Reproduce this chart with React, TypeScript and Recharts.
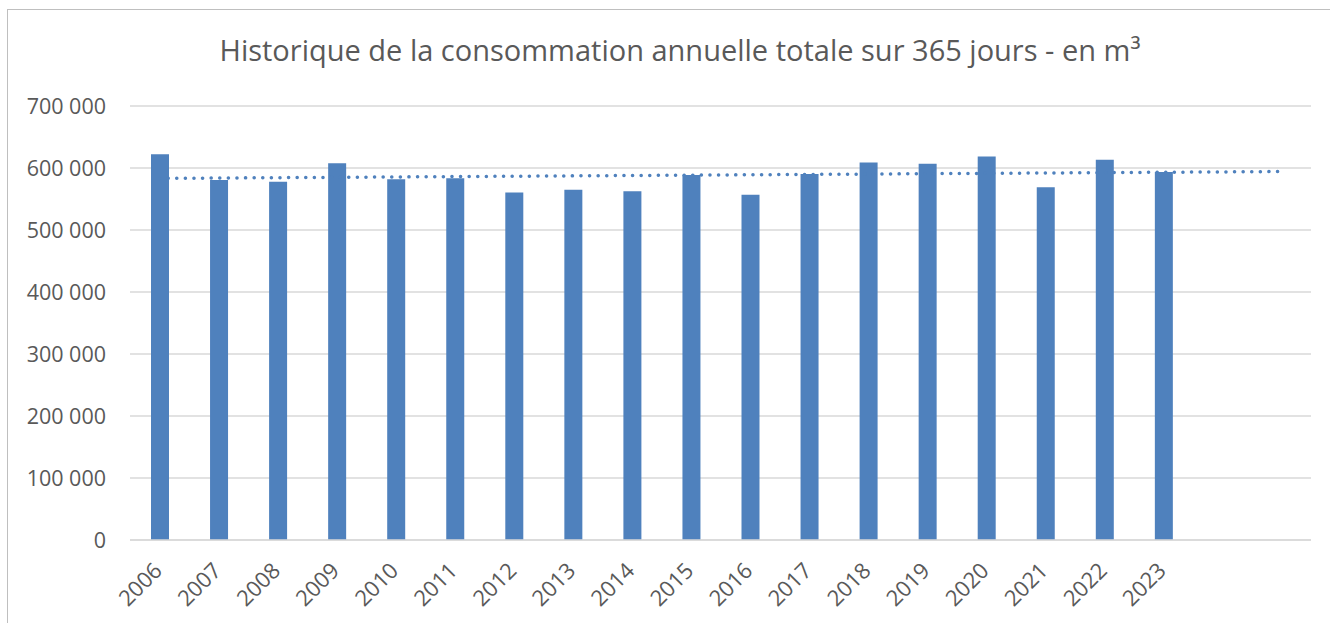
import { ComposedChart, Bar, Line, XAxis, YAxis, CartesianGrid } from "recharts";

// Years on the category axis (last two slots are empty in the original)
const years = [
  "2006", "2007", "2008", "2009", "2010", "2011", "2012", "2013", "2014",
  "2015", "2016", "2017", "2018", "2019", "2020", "2021", "2022", "2023", "", "",
];

// Annual consumption, m³
const consumption = [
  622000, 580600, 578000, 607600, 582000, 583400, 560300, 565000, 562400,
  588700, 557000, 590300, 608700, 607000, 618400, 568900, 613500, 593500,
];

const yTicks = [0, 100000, 200000, 300000, 400000, 500000, 600000, 700000];

// linear trendline (least squares on the known points), extended over all slots
const n = consumption.length;
const meanX = (n - 1) / 2;
const meanY = consumption.reduce((a, b) => a + b, 0) / n;
let sxy = 0;
let sxx = 0;
consumption.forEach((v, i) => {
  sxy += (i - meanX) * (v - meanY);
  sxx += (i - meanX) * (i - meanX);
});
const slope = sxy / sxx;
const intercept = meanY - slope * meanX;

const data = years.map((year, i) => ({
  year,
  value: consumption[i],
  trend: intercept + slope * i,
}));

const BLUE = "#4F81BD";
const TEXT = "#595959";
const FONT = "'Open Sans', sans-serif";

const fmt = (v: number) => String(v).replace(/\B(?=(\d{3})+(?!\d))/g, " ");

const YearTick = (props: any) => {
  const { x, y, payload } = props;
  const ax = x + 4;
  const ay = y + 24;
  return (
    <text
      x={ax}
      y={ay}
      transform={`rotate(-45, ${ax}, ${ay})`}
      textAnchor="end"
      fill={TEXT}
      fontSize={22}
      fontFamily={FONT}
    >
      {payload.value}
    </text>
  );
};

export default function App() {
  return (
    <div
      style={{
        position: "fixed",
        left: 0,
        top: 0,
        width: 1330,
        height: 623,
        background: "#fff",
        overflow: "hidden",
      }}
    >
      <div
        style={{
          position: "absolute",
          left: 7,
          top: 9,
          width: 1340,
          height: 700,
          border: "1.5px solid #BFBFBF",
        }}
      />
      <div
        style={{
          position: "absolute",
          left: 0,
          width: 1360,
          top: 27,
          textAlign: "center",
          fontFamily: FONT,
          fontSize: 29,
          color: TEXT,
          lineHeight: "46px",
        }}
      >
        Historique de la consommation annuelle totale sur 365 jours - en m³
      </div>
      <div style={{ position: "absolute", left: 0, top: 0 }}>
        <ComposedChart
          width={1330}
          height={623}
          data={data}
          margin={{ top: 106, right: 19, bottom: 0, left: 0 }}
        >
          <CartesianGrid vertical={false} stroke="#D9D9D9" strokeWidth={1.5} />
          <XAxis
            dataKey="year"
            height={83}
            interval={0}
            axisLine={{ stroke: "#D9D9D9", strokeWidth: 1.5 }}
            tickLine={false}
            tick={<YearTick />}
          />
          <YAxis
            width={130}
            domain={[0, 700000]}
            ticks={yTicks}
            tickFormatter={fmt}
            axisLine={false}
            tickLine={false}
            tickSize={0}
            tickMargin={24}
            tick={{ fill: TEXT, fontSize: 21.5, fontFamily: FONT }}
          />
          <Bar dataKey="value" fill={BLUE} barSize={18} isAnimationActive={false} />
          <Line
            type="linear"
            dataKey="trend"
            stroke={BLUE}
            strokeWidth={3.5}
            strokeDasharray="0.1 8.5"
            strokeLinecap="round"
            dot={false}
            activeDot={false}
            isAnimationActive={false}
          />
        </ComposedChart>
      </div>
    </div>
  );
}
